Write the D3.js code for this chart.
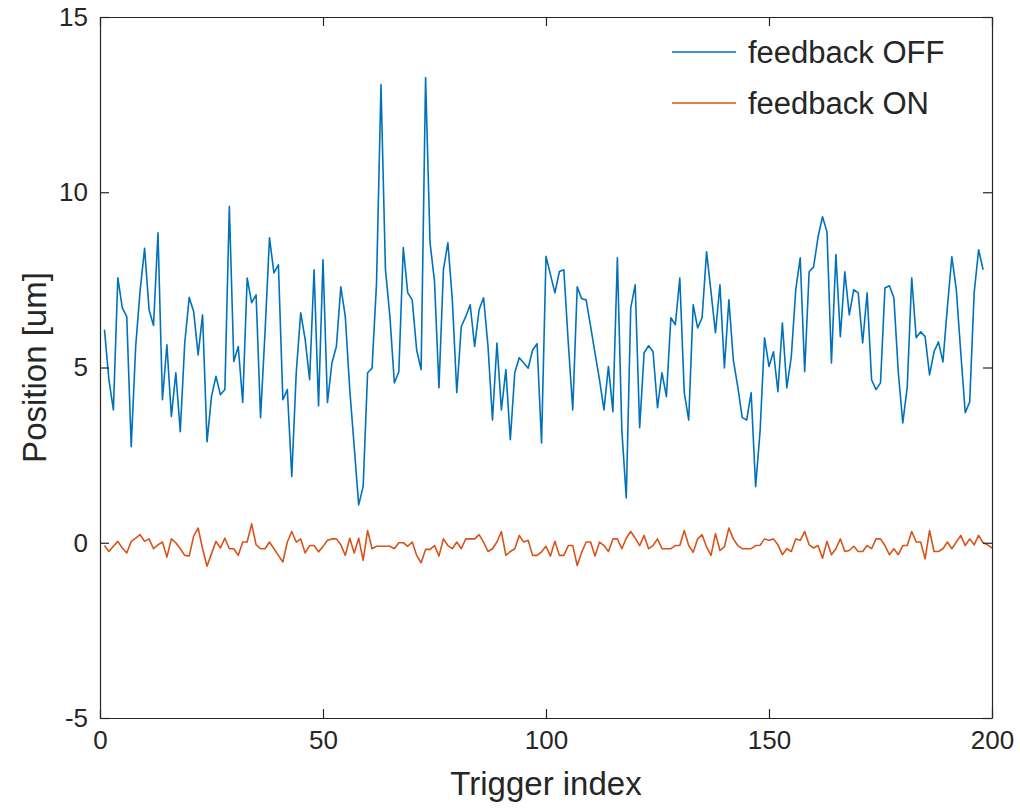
<!DOCTYPE html>
<html>
<head>
<meta charset="utf-8">
<script src="https://cdn.jsdelivr.net/npm/d3@7"></script>
<style>
  body { margin: 0; background: #fff; }
  text { font-family: "Liberation Sans", Arial, Helvetica, sans-serif; fill: #262626; }
</style>
</head>
<body>
<div id="chart"></div>
<script>
// data
const feedbackOff = [
  6.08, 4.65, 3.79, 7.56, 6.7, 6.45, 2.74, 5.6, 7.2, 8.4,
  6.65, 6.2, 8.84, 4.08, 5.65, 3.6, 4.85, 3.17, 5.7, 7.0,
  6.6, 5.36, 6.5, 2.88, 4.17, 4.75, 4.22, 4.37, 9.6, 5.17,
  5.6, 4.0, 7.55, 6.85, 7.07, 3.57, 6.0, 8.7, 7.7, 7.93,
  4.08, 4.37, 1.89, 4.85, 6.56, 5.8, 4.65, 7.79, 3.9, 8.07,
  4.0, 5.13, 5.6, 7.3, 6.45, 4.37, 2.74, 1.08, 1.6, 4.85,
  4.98, 7.4, 13.07, 7.8, 6.45, 4.56, 4.88, 8.42, 7.13, 6.93,
  5.5, 4.94, 13.27, 8.56, 7.46, 4.42, 7.79, 8.56, 6.93, 4.28,
  6.17, 6.45, 6.79, 5.6, 6.65, 6.99, 5.6, 3.5, 5.7, 3.79,
  4.94, 2.94, 4.85, 5.28, 5.13, 4.98, 5.5, 5.68, 2.85, 8.17,
  7.65, 7.13, 7.74, 7.79, 5.7, 3.79, 7.3, 6.96, 6.93, 6.17,
  5.4, 4.65, 3.79, 5.03, 3.74, 8.13, 3.22, 1.28, 6.7, 7.36,
  3.28, 5.42, 5.62, 5.45, 3.85, 4.85, 4.17, 6.42, 6.22, 7.55,
  4.28, 3.5, 6.79, 6.13, 6.42, 8.3, 7.16, 5.99, 7.36, 4.99,
  6.93, 5.22, 4.45, 3.57, 3.5, 4.28, 1.6, 3.18, 5.85, 5.03,
  5.45, 4.31, 6.27, 4.42, 5.31, 7.22, 8.13, 4.88, 7.73, 7.87,
  8.73, 9.3, 8.87, 5.13, 8.22, 5.88, 7.73, 6.5, 7.22, 7.13,
  5.7, 7.13, 4.65, 4.37, 4.56, 7.27, 7.33, 6.99, 4.85, 3.42,
  4.45, 7.56, 5.85, 6.02, 5.88, 4.79, 5.45, 5.73, 5.16, 6.73,
  8.16, 7.22, 5.42, 3.71, 4.02, 7.13, 8.36, 7.79
];
const feedbackOn = [
  -0.08, -0.25, -0.1, 0.04, -0.15, -0.29, 0.04, 0.13, 0.23, 0.04,
  0.11, -0.17, -0.06, 0.02, -0.41, 0.11, 0, -0.17, -0.36, -0.38,
  0.19, 0.42, -0.17, -0.67, -0.31, 0.04, -0.15, 0.13, -0.17, -0.17,
  -0.36, 0.02, 0.02, 0.54, -0.06, -0.17, -0.17, 0.02, -0.17, -0.36,
  -0.55, 0.02, 0.32, 0.02, 0.11, -0.29, -0.08, -0.08, -0.26, -0.11,
  0.07, 0.11, 0.11, -0.06, -0.36, 0.13, -0.29, 0.13, -0.5, 0.35,
  -0.17, -0.1, -0.1, -0.1, -0.1, -0.17, 0, 0, -0.1, 0.02,
  -0.36, -0.57, -0.19, -0.19, -0.08, -0.38, 0.11, -0.08, -0.17, 0.02,
  -0.17, 0.11, 0.11, 0.11, 0.23, 0.02, -0.25, -0.17, 0.02, 0.32,
  -0.36, -0.25, -0.17, 0.21, 0.02, 0.07, -0.36, -0.36, -0.26, -0.1,
  -0.38, 0.04, -0.36, -0.36, -0.08, -0.08, -0.65, -0.27, 0.02, 0.02,
  -0.38, 0.02, -0.08, -0.25, 0.11, 0.11, -0.17, 0.13, 0.32, 0.13,
  -0.08, 0.21, -0.17, -0.08, 0.11, -0.17, -0.17, -0.17, -0.08, -0.08,
  0.35, -0.08, -0.27, 0.11, 0.23, -0.12, -0.36, 0.26, -0.22, -0.12,
  0.42, 0.11, -0.08, -0.17, -0.17, -0.17, -0.08, -0.07, 0.11, 0.07,
  0.11, -0.06, -0.34, -0.17, -0.25, 0.11, 0.07, 0.32, -0.06, -0.15,
  -0.08, -0.44, 0.04, -0.34, -0.17, 0.11, -0.25, -0.22, -0.1, -0.25,
  -0.25, -0.08, -0.17, 0.11, 0.11, -0.08, -0.34, -0.17, -0.34, -0.08,
  -0.08, 0.32, 0.02, 0.02, -0.46, 0.35, -0.25, -0.25, -0.17, 0.02,
  -0.17, 0.02, 0.21, -0.08, 0.11, -0.06, 0.21, 0, -0.06, -0.15
];
const xTicks = [0, 50, 100, 150, 200];
const yTicks = [-5, 0, 5, 10, 15];
const seriesNames = ["feedback OFF", "feedback ON"];
const seriesColors = ["#0072BD", "#D95319"];

const W = 1020, H = 809;
const margin = { top: 17, right: 28, bottom: 91, left: 100 };
const axisColor = "#262626";

const svg = d3.select("#chart").append("svg")
  .attr("width", W).attr("height", H);

const x = d3.scaleLinear().domain([0, 200]).range([margin.left, W - margin.right]);
const y = d3.scaleLinear().domain([-5, 15]).range([H - margin.bottom, margin.top]);

// lines
const line = d3.line().x((d, i) => x(i + 1)).y(d => y(d));
[feedbackOff, feedbackOn].forEach((s, k) => {
  svg.append("path")
    .datum(s)
    .attr("fill", "none")
    .attr("stroke", seriesColors[k])
    .attr("stroke-width", 1.6)
    .attr("stroke-linejoin", "round")
    .attr("d", line);
});

// axes, MATLAB style box with inward ticks
const tk = 9;
const fmt = d => String(d); // plain hyphen like matlab
function styleAxis(g) {
  g.selectAll(".domain").attr("stroke", axisColor).attr("stroke-width", 1.2);
  g.selectAll(".tick line").attr("stroke", axisColor).attr("stroke-width", 1.2);
  g.selectAll("text").attr("fill", axisColor).style("font-size", "26px")
    .style("font-family", "'Liberation Sans', Arial, sans-serif");
}
svg.append("g").attr("transform", `translate(0,${y(-5)})`)
  .call(d3.axisBottom(x).tickValues(xTicks).tickFormat(fmt).tickSizeInner(-tk).tickSizeOuter(0).tickPadding(13))
  .call(styleAxis);
svg.append("g").attr("transform", `translate(0,${y(15)})`)
  .call(d3.axisTop(x).tickValues(xTicks).tickSizeInner(-tk).tickSizeOuter(0).tickFormat(""))
  .call(styleAxis);
svg.append("g").attr("transform", `translate(${x(0)},0)`)
  .call(d3.axisLeft(y).tickValues(yTicks).tickFormat(fmt).tickSizeInner(-tk).tickSizeOuter(0).tickPadding(12))
  .call(styleAxis);
svg.append("g").attr("transform", `translate(${x(200)},0)`)
  .call(d3.axisRight(y).tickValues(yTicks).tickSizeInner(-tk).tickSizeOuter(0).tickFormat(""))
  .call(styleAxis);

// axis labels
svg.append("text")
  .attr("x", (x(0) + x(200)) / 2).attr("y", 795)
  .attr("text-anchor", "middle")
  .style("font-size", "33px")
  .text("Trigger index");
svg.append("text")
  .attr("transform", `translate(46,${(y(-5) + y(15)) / 2}) rotate(-90)`)
  .attr("text-anchor", "middle")
  .style("font-size", "33px")
  .text("Position [um]");

// legend (no box)
const leg = svg.append("g");
seriesNames.forEach((name, k) => {
  const ly = 52 + k * 51;
  leg.append("line")
    .attr("x1", 672).attr("x2", 736).attr("y1", ly).attr("y2", ly)
    .attr("stroke", seriesColors[k]).attr("stroke-width", 1.6);
  leg.append("text")
    .attr("x", 748).attr("y", ly).attr("dy", "0.36em")
    .style("font-size", "31px")
    .text(name);
});
</script>
</body>
</html>
